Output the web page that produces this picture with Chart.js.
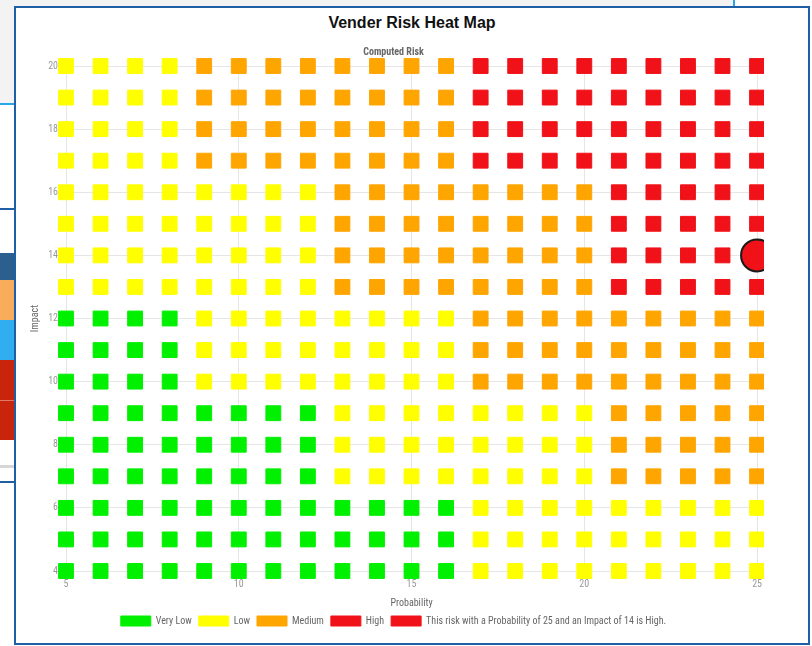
<!DOCTYPE html>
<html>
<head>
<meta charset="utf-8">
<script src="https://cdn.jsdelivr.net/npm/chart.js@4"></script>
<style>
  body { margin: 0; background: #fff; width: 812px; height: 646px; overflow: hidden; position: relative; }
  .bg { position: absolute; }
  #card { position: absolute; left: 14px; top: 6px; width: 792px; height: 635px; border: 2px solid #1f5fa6; background: #fff; }
  #title { position: absolute; left: 0; top: 6px; width: 792px; height: 28px; line-height: 28px; text-align: center;
           font: bold 16px 'Liberation Sans', Arial, sans-serif; color: #111; }
  #heatChart { position: absolute; left: 13px; top: 32px; display: block; }
</style>
</head>
<body>
<!-- page bits behind the card -->
<div class="bg" style="left:0;top:0;width:733px;height:104px;background:#f3f3f3"></div>
<div class="bg" style="left:0;top:103px;width:20px;height:2px;background:#2aa7e8"></div>
<div class="bg" style="left:733px;top:0;width:2px;height:8px;background:#2aa7e8"></div>
<div class="bg" style="left:0;top:208px;width:20px;height:2px;background:#1f5fa6"></div>
<div class="bg" style="left:0;top:253px;width:20px;height:27px;background:#2b5f8e"></div>
<div class="bg" style="left:0;top:280px;width:20px;height:40px;background:#f9ad5b"></div>
<div class="bg" style="left:0;top:320px;width:20px;height:40px;background:#30aef0"></div>
<div class="bg" style="left:0;top:360px;width:20px;height:40px;background:#c9250d"></div>
<div class="bg" style="left:0;top:400px;width:20px;height:1px;background:#e07a66"></div>
<div class="bg" style="left:0;top:401px;width:20px;height:39px;background:#c9250d"></div>
<div class="bg" style="left:0;top:465px;width:20px;height:3px;background:#d6d6d6"></div>
<div class="bg" style="left:0;top:481px;width:20px;height:2px;background:#1f5fa6"></div>

<div id="card">
  <div id="title">Vender Risk Heat Map</div>
  <canvas id="heatChart" width="740" height="602"></canvas>
</div>

<script>
// Axis values
const probability = [5, 6, 7, 8, 9, 10, 11, 12, 13, 14, 15, 16, 17, 18, 19, 20, 21, 22, 23, 24, 25];
const impact = [20, 19, 18, 17, 16, 15, 14, 13, 12, 11, 10, 9, 8, 7, 6, 5, 4];

// Risk level per cell, one string per impact row (V = Very Low, L = Low, M = Medium, H = High)
const riskRows = [
  "LLLLMMMMMMMMHHHHHHHHH",
  "LLLLMMMMMMMMHHHHHHHHH",
  "LLLLMMMMMMMMHHHHHHHHH",
  "LLLLMMMMMMMMHHHHHHHHH",
  "LLLLLLLLMMMMMMMMHHHHH",
  "LLLLLLLLMMMMMMMMHHHHH",
  "LLLLLLLLMMMMMMMMHHHHH",
  "LLLLLLLLMMMMMMMMHHHHH",
  "VVVVLLLLLLLLMMMMMMMMM",
  "VVVVLLLLLLLLMMMMMMMMM",
  "VVVVLLLLLLLLMMMMMMMMM",
  "VVVVVVVVLLLLLLLLMMMMM",
  "VVVVVVVVLLLLLLLLMMMMM",
  "VVVVVVVVLLLLLLLLMMMMM",
  "VVVVVVVVVVVVLLLLLLLLL",
  "VVVVVVVVVVVVLLLLLLLLL",
  "VVVVVVVVVVVVLLLLLLLLL",
];

const levelKeys = ["V", "L", "M", "H"];
const levelLabels = ["Very Low", "Low", "Medium", "High"];
const levelColors = ["#00f000", "#ffff00", "#ffa500", "#f01218"];

// The risk being assessed
const currentRisk = [{ x: 25, y: 14 }];
const currentLabel = "This risk with a Probability of 25 and an Impact of 14 is High.";

const smallFont = { family: "'Liberation Sans Narrow', 'Roboto Condensed', 'Liberation Sans', Arial, sans-serif", size: 10 };
// squares in the last column get cut off a little past the chart edge
const pointClip = { left: 20, top: 20, right: 7, bottom: 20 };

document.addEventListener("DOMContentLoaded", function () {
  const datasets = levelKeys.map(function (key, i) {
    const pts = [];
    riskRows.forEach(function (row, r) {
      for (let c = 0; c < row.length; c++) {
        if (row[c] === key) pts.push({ x: probability[c], y: impact[r] });
      }
    });
    return {
      label: levelLabels[i],
      data: pts,
      backgroundColor: levelColors[i],
      borderColor: levelColors[i],
      borderWidth: 1,
      pointStyle: "rect",
      pointRadius: 10.5,
      pointHoverRadius: 10.5,
      clip: pointClip,
    };
  });

  datasets.push({
    label: currentLabel,
    data: currentRisk,
    backgroundColor: "#f01218",
    borderColor: "#1a1a1a",
    borderWidth: 2,
    pointStyle: "circle",
    pointRadius: 16,
    pointHoverRadius: 16,
    clip: pointClip,
  });

  const ctx = document.getElementById("heatChart").getContext("2d");
  new Chart(ctx, {
    type: "scatter",
    data: { datasets: datasets },
    options: {
      responsive: false,
      animation: false,
      layout: { autoPadding: false, padding: { left: 0, right: 11, top: 0, bottom: 6 } },
      plugins: {
        subtitle: {
          display: true,
          text: "Computed Risk",
          color: "#666",
          font: Object.assign({}, smallFont, { weight: "bold" }),
          padding: { top: 6, bottom: 8 },
        },
        legend: {
          position: "bottom",
          labels: {
            boxWidth: 30,
            boxHeight: 10,
            color: "#666",
            font: smallFont,
            padding: 7,
            generateLabels: function (chart) {
              const items = Chart.defaults.plugins.legend.labels.generateLabels(chart);
              items.forEach(function (item) {
                item.strokeStyle = item.fillStyle;
                item.lineWidth = 1;
              });
              return items;
            },
          },
        },
        tooltip: { enabled: false },
      },
      scales: {
        x: {
          min: 5,
          max: 25,
          ticks: { stepSize: 5, color: "#999", font: smallFont, padding: 7 },
          grid: { color: "#e6e6e6", drawTicks: false },
          border: { display: false },
          title: { display: true, text: "Probability", color: "#666", font: smallFont, padding: { top: 0, bottom: 0 } },
        },
        y: {
          min: 4,
          max: 20,
          ticks: { stepSize: 2, color: "#999", font: smallFont, padding: 8 },
          grid: { color: "#e6e6e6", drawTicks: false },
          border: { display: false },
          title: { display: true, text: "Impact", color: "#666", font: smallFont, padding: { top: 0, bottom: 0 } },
          afterFit: function (scale) { scale.width = 37; },
        },
      },
    },
  });
});
</script>
</body>
</html>
